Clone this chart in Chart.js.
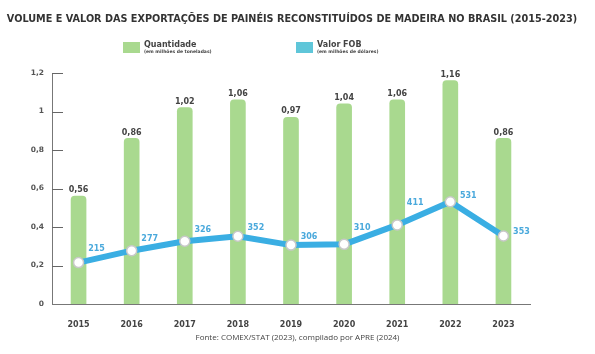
<!DOCTYPE html>
<html><head><meta charset="utf-8">
<script src="https://cdn.jsdelivr.net/npm/chart.js@4"></script>
<style>
html,body{margin:0;padding:0;background:#fff;}
#wrap{position:relative;width:595px;height:354px;overflow:hidden;}
#title{position:absolute;left:0;top:13px;width:584px;text-align:center;font:bold 9.7px "DejaVu Sans",sans-serif;color:#333;white-space:nowrap;}
.leg{position:absolute;top:41px;font-family:"DejaVu Sans",sans-serif;color:#444;}
.sw{position:absolute;top:1px;width:17px;height:11px;}
.l1{position:absolute;left:21px;top:-1px;font-weight:bold;font-size:8px;white-space:nowrap;}
.l2{position:absolute;left:21px;top:8px;font-weight:bold;font-size:4.5px;white-space:nowrap;}
#src{position:absolute;left:0;top:331px;width:595px;text-align:center;font:8px "Open Sans",sans-serif;color:#444;}
canvas{position:absolute;left:0;top:0;}
</style></head>
<body><div id="wrap">
<canvas id="c" width="595" height="354"></canvas>
<div id="title">VOLUME E VALOR DAS EXPORTAÇÕES DE PAINÉIS RECONSTITUÍDOS DE MADEIRA NO BRASIL (2015-2023)</div>
<div class="leg" style="left:123px"><div class="sw" style="background:#a9d98f"></div><div class="l1">Quantidade</div><div class="l2">(em milhões de toneladas)</div></div>
<div class="leg" style="left:296px"><div class="sw" style="background:#5fc6d9"></div><div class="l1">Valor FOB</div><div class="l2">(em milhões de dólares)</div></div>
<div id="src">Fonte: COMEX/STAT (2023), compilado por APRE (2024)</div>
</div>
<script>
const years = ['2015','2016','2017','2018','2019','2020','2021','2022','2023'];
const quantidade = [0.56,0.86,1.02,1.06,0.97,1.04,1.06,1.16,0.86];
const valorFOB = [215,277,326,352,306,310,411,531,353];
const yTicks = [0,0.2,0.4,0.6,0.8,1,1.2];

const fmt = v => String(v).replace('.', ',');
// vertical label lifts (style only) for line value labels
const lineLabelLift = [14,12,11,8,8,16,22,6,4];

const labelPlugin = {
  id:'labels',
  afterDatasetsDraw(chart){
    const ctx = chart.ctx;
    ctx.save();
    const ys = chart.scales.y, left = chart.chartArea.left;
    ctx.strokeStyle = '#666'; ctx.lineWidth = 1;
    yTicks.forEach(t=>{ if(t===0) return; const y=Math.round(ys.getPixelForValue(t))+0.5; ctx.beginPath(); ctx.moveTo(left,y); ctx.lineTo(left+11,y); ctx.stroke(); });
    const bm = chart.getDatasetMeta(0);
    ctx.font = 'bold 8px "DejaVu Sans", sans-serif';
    ctx.fillStyle = '#444'; ctx.textAlign='center'; ctx.textBaseline='bottom';
    bm.data.forEach((b,i)=>{ ctx.fillText(fmt(quantidade[i]), b.x, b.y-2); });
    const lm = chart.getDatasetMeta(1);
    ctx.fillStyle = '#4aa9dc'; ctx.textAlign='center'; ctx.textBaseline='middle';
    lm.data.forEach((p,i)=>{ ctx.fillText(String(valorFOB[i]), p.x+18, p.y-lineLabelLift[i]); });
    ctx.restore();
  }
};

new Chart(document.getElementById('c'), {
  data:{
    labels: years,
    datasets:[
      {type:'bar', data: quantidade, backgroundColor:'#a9d98f', barThickness:15, borderRadius:{topLeft:4,topRight:4}, borderSkipped:'bottom', yAxisID:'y', order:2},
      {type:'line', data: valorFOB, borderColor:'#3aaee3', borderWidth:6, tension:0, borderJoinStyle:'round', pointRadius:5, pointBackgroundColor:'#fff', pointBorderColor:'#c8c8c8', pointBorderWidth:1.5, yAxisID:'y2', order:1}
    ]
  },
  options:{
    responsive:false, animation:false,
    layout:{padding:{top:73,right:65,left:0,bottom:0}},
    plugins:{legend:{display:false}, tooltip:{enabled:false}},
    scales:{
      x:{
        grid:{display:false, drawTicks:false},
        border:{display:true,color:'#777',width:1},
        ticks:{font:{family:'"DejaVu Sans", sans-serif',weight:'bold',size:8},color:'#444',padding:16},
        afterFit:s=>{s.height=50;}
      },
      y:{
        min:0,max:1.2,
        afterBuildTicks:s=>{s.ticks=yTicks.map(v=>({value:v}));},
        grid:{display:false, drawTicks:false},
        border:{display:true,color:'#777',width:1},
        ticks:{callback:v=>fmt(v),font:{family:'"DejaVu Sans", sans-serif',weight:'bold',size:7.5},color:'#555',padding:8},
        afterFit:s=>{s.width=52;}
      },
      y2:{min:0,max:1200,display:false}
    }
  },
  plugins:[labelPlugin]
});
</script>
</body></html>
